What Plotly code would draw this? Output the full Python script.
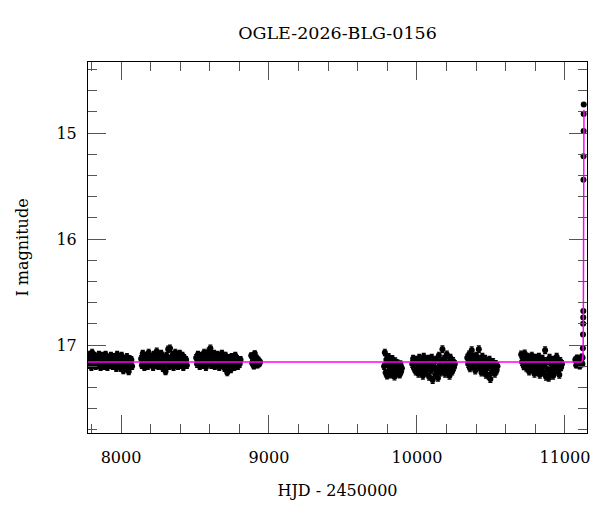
import plotly.graph_objects as go

# ---- data (HJD - 2450000, I magnitude) ----
s1_t = [7782,7786,7791,7796,7800,7805,7810,7815,7820,7825,7830,7835,7841,7846,7851,7857,7862,7868,7873,7879,7884,7890,7896,7902,7908,7914,7920,7926,7932,7938,7944,7950,7956,7962,7968,7974,7980,7986,7992,7998,8004,8010,8016,8022,8028,8034,8040,8046,8052,8058,8064,8070,8075]
s1_m = [17.12,17.19,17.09,17.15,17.21,17.07,17.13,17.18,17.10,17.16,17.20,17.11,17.14,17.19,17.09,17.16,17.21,17.12,17.10,17.17,17.20,17.13,17.09,17.16,17.21,17.12,17.15,17.19,17.10,17.14,17.20,17.11,17.17,17.13,17.22,17.09,17.15,17.19,17.12,17.22,17.10,17.16,17.24,17.13,17.18,17.21,17.11,17.16,17.25,17.13,17.19,17.14,17.20]

s2_t = [8136,8141,8147,8152,8158,8163,8169,8175,8181,8187,8193,8199,8205,8211,8217,8223,8229,8235,8241,8247,8253,8259,8265,8271,8277,8283,8289,8295,8301,8307,8313,8319,8325,8331,8337,8343,8349,8355,8361,8367,8373,8379,8385,8391,8397,8403,8409,8415,8421,8427,8433,8440,8445]
s2_m = [17.13,17.19,17.08,17.15,17.21,17.10,17.17,17.12,17.20,17.07,17.14,17.18,17.11,17.16,17.21,17.09,17.13,17.19,17.06,17.15,17.20,17.11,17.17,17.08,17.14,17.22,17.12,17.18,17.25,17.10,17.16,17.04,17.20,17.03,17.13,17.18,17.09,17.21,17.14,17.07,17.17,17.11,17.20,17.13,17.08,17.19,17.15,17.10,17.21,17.12,17.17,17.14,17.19]

s3_t = [8508,8514,8520,8526,8532,8538,8544,8550,8556,8562,8568,8574,8580,8586,8592,8598,8604,8610,8616,8622,8628,8634,8640,8646,8652,8658,8664,8670,8676,8682,8688,8694,8700,8706,8712,8718,8724,8730,8736,8742,8748,8754,8760,8766,8772,8778,8784,8790,8796,8802,8808]
s3_m = [17.12,17.18,17.09,17.15,17.20,17.10,17.16,17.13,17.19,17.07,17.14,17.21,17.11,17.17,17.06,17.13,17.03,17.19,17.10,17.15,17.08,17.20,17.12,17.17,17.09,17.14,17.21,17.11,17.16,17.08,17.19,17.13,17.22,17.10,17.17,17.26,17.12,17.20,17.15,17.23,17.11,17.18,17.14,17.21,17.10,17.17,17.13,17.20,17.15,17.18,17.14]

s4_t = [8880,8886,8892,8898,8904,8910,8916,8922,8928,8934,8940]
s4_m = [17.10,17.17,17.13,17.20,17.08,17.15,17.12,17.19,17.14,17.18,17.16]

s5_t = [9778,9783,9788,9793,9798,9803,9808,9813,9818,9823,9828,9833,9838,9843,9848,9853,9858,9863,9868,9873,9878,9883,9888,9893,9898]
s5_m = [17.20,17.07,17.26,17.14,17.29,17.18,17.11,17.24,17.16,17.28,17.21,17.13,17.25,17.19,17.30,17.15,17.22,17.27,17.17,17.24,17.20,17.28,17.18,17.25,17.22]

s6_t = [9968,9974,9980,9986,9992,9998,10004,10010,10016,10022,10028,10034,10040,10046,10052,10058,10064,10070,10076,10082,10088,10094,10100,10106,10112,10118,10124,10130,10136,10142,10148,10154,10160,10166,10172,10178,10184,10190,10196,10202,10208,10214,10220,10226,10232,10238,10244,10250,10256]
s6_m = [17.18,17.13,17.22,17.16,17.25,17.14,17.20,17.27,17.12,17.18,17.23,17.15,17.29,17.11,17.20,17.26,17.16,17.22,17.13,17.30,17.19,17.24,17.12,17.33,17.17,17.21,17.28,17.14,17.24,17.31,17.10,17.19,17.26,17.15,17.04,17.22,17.13,17.27,17.18,17.09,17.23,17.16,17.29,17.12,17.20,17.25,17.15,17.21,17.18]

s7_t = [10340,10346,10352,10358,10364,10370,10376,10382,10388,10394,10400,10406,10412,10418,10424,10430,10436,10442,10448,10454,10460,10466,10472,10478,10484,10490,10496,10502,10508,10514,10520,10526,10532,10538,10544]
s7_m = [17.12,17.18,17.09,17.22,17.14,17.05,17.20,17.11,17.16,17.24,17.10,17.18,17.13,17.04,17.21,17.15,17.26,17.11,17.19,17.23,17.13,17.28,17.17,17.21,17.29,17.14,17.32,17.19,17.25,17.16,17.22,17.27,17.18,17.24,17.20]

s8_t = [10704,10710,10716,10722,10728,10734,10740,10746,10752,10758,10764,10770,10776,10782,10788,10794,10800,10806,10812,10818,10824,10830,10836,10842,10848,10854,10860,10866,10872,10878,10884,10890,10896,10902,10908,10914,10920,10926,10932,10938,10944,10950,10956,10962,10968,10974,10980]
s8_m = [17.09,17.16,17.12,17.20,17.08,17.14,17.22,17.11,17.18,17.25,17.13,17.19,17.10,17.23,17.16,17.27,17.12,17.20,17.15,17.24,17.11,17.28,17.17,17.21,17.13,17.26,17.19,17.05,17.30,17.15,17.23,17.31,17.12,17.27,17.18,17.22,17.29,17.14,17.25,17.19,17.11,17.24,17.17,17.28,17.15,17.21,17.18]

s9_t = [11070,11076,11082,11088,11094,11100,11106,11110,11114,11118]
s9_m = [17.14,17.19,17.12,17.17,17.15,17.20,17.13,17.16,17.11,17.18]

ev_t = [11119,11121,11122,11123,11123.5,11124,11125,11125.5,11126,11126.5,11127]
ev_m = [17.12,17.03,16.90,16.80,16.74,16.68,15.44,15.22,14.98,14.82,14.73]

season_err = [0.03, 0.03, 0.03, 0.025, 0.03, 0.032, 0.032, 0.032, 0.025]
event_err = 0.012

model_t = [7777, 11110, 11118, 11122, 11124, 11125.5, 11126.5, 11127.5, 11128.5]
model_m = [17.16, 17.16, 17.15, 17.10, 16.90, 16.40, 15.70, 15.10, 14.78]

x_ticks = [8000, 9000, 10000, 11000]
y_ticks = [15, 16, 17]

# ---- assemble ----
seasons = [(s1_t, s1_m), (s2_t, s2_m), (s3_t, s3_m), (s4_t, s4_m), (s5_t, s5_m),
           (s6_t, s6_m), (s7_t, s7_m), (s8_t, s8_m), (s9_t, s9_m)]
all_t, all_m, all_e = [], [], []
for (t, m), e in zip(seasons, season_err):
    n = min(len(t), len(m))
    all_t += t[:n]
    all_m += m[:n]
    all_e += [e] * n
all_t += ev_t
all_m += ev_m
all_e += [event_err] * len(ev_t)

FONT = "DejaVu Serif"

fig = go.Figure()
fig.add_trace(go.Scatter(
    x=all_t, y=all_m, mode="markers",
    marker=dict(color="black", size=6, line=dict(width=0)),
    error_y=dict(type="data", array=all_e, visible=True, color="black", thickness=1.2, width=2),
    showlegend=False, hoverinfo="skip"))
fig.add_trace(go.Scatter(
    x=model_t, y=model_m, mode="lines",
    line=dict(color="#ff00ff", width=1.5),
    showlegend=False, hoverinfo="skip"))

axis_common = dict(
    showline=True, linecolor="black", linewidth=1, mirror="allticks",
    ticks="inside", ticklen=18, tickwidth=1, tickcolor="#555",
    showgrid=False, zeroline=False, automargin=False,
    tickfont=dict(family=FONT, size=16, color="black"),
)

fig.update_xaxes(
    range=[7777, 11149], tickvals=x_ticks, tickformat="d", ticklabelstandoff=10,
    minor=dict(dtick=200, tick0=0, ticklen=9, ticks="inside", tickcolor="#555", showgrid=False),
    title=dict(text="HJD - 2450000", font=dict(family=FONT, size=16, color="black"), standoff=18),
    **axis_common)
fig.update_yaxes(
    range=[17.83, 14.33], tickvals=y_ticks, ticklabelstandoff=7,
    minor=dict(dtick=0.2, tick0=0, ticklen=9, ticks="inside", tickcolor="#555", showgrid=False),
    title=dict(text="I magnitude", font=dict(family=FONT, size=16, color="black"), standoff=23),
    **axis_common)

# the page body has an 8px margin, so the figure is sized/offset to compensate
fig.update_layout(
    width=592, height=504,
    margin=dict(l=80, r=13, t=54, b=79, autoexpand=False),
    paper_bgcolor="white", plot_bgcolor="white",
    title=dict(text="OGLE-2026-BLG-0156", x=0.5, xref="paper", y=1 - 25 / 504, yref="container",
               yanchor="middle", font=dict(family=FONT, size=17.5, color="black")),
)

fig.write_html("out.html")
